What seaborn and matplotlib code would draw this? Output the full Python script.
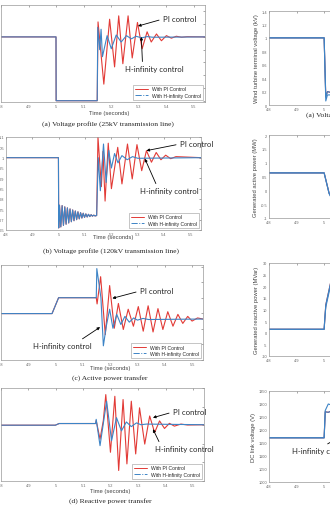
import pandas as pd
import matplotlib
matplotlib.use("Agg")
import matplotlib.pyplot as plt
import seaborn as sns
from matplotlib.lines import Line2D

W, H = 330, 510
RED = "#e23a36"
BLUE = "#3d84c6"

# ---------------- data ----------------
x_ticks = [4.8, 4.9, 5.0, 5.1, 5.2, 5.3, 5.4, 5.5]
x_tick_labels = ["4.8", "4.9", "5", "5.1", "5.2", "5.3", "5.4", "5.5"]

# (a) voltage, 25kV line
a_pre_t = [4.800, 4.9995, 5.0000, 5.1490]
a_pre_v = [1.000, 1.000, 0.000, 0.000]
a_pi_t = [5.152, 5.173, 5.194, 5.212, 5.227, 5.242, 5.261, 5.276, 5.295, 5.312,
          5.330, 5.345, 5.364, 5.382, 5.400, 5.418, 5.436, 5.455, 5.475, 5.540]
a_pi_v = [1.235, 0.260, 1.277, 0.530, 1.330, 0.580, 1.330, 0.670, 1.226, 0.815,
          1.080, 0.920, 1.046, 0.940, 1.020, 0.980, 1.010, 0.995, 1.003, 1.000]
a_hi_t = [5.151, 5.158, 5.163, 5.168, 5.185, 5.200, 5.218, 5.236, 5.255, 5.273,
          5.290, 5.310, 5.330, 5.350, 5.540]
a_hi_v = [1.150, 0.800, 1.120, 0.690, 1.020, 0.815, 1.030, 0.920, 1.020, 0.970,
          1.010, 0.985, 1.005, 0.995, 1.000]

# (b) voltage, 120kV line
b_pre_t = [4.800, 4.999, 5.000, 5.003, 5.008, 5.013, 5.018, 5.023, 5.028, 5.033,
           5.038, 5.043, 5.048, 5.053, 5.058, 5.063, 5.068, 5.073, 5.078, 5.083,
           5.088, 5.093, 5.098, 5.103, 5.108, 5.113, 5.118, 5.123, 5.128, 5.133,
           5.138, 5.144]
b_pre_v = [1.000, 1.000, 0.660, 0.770, 0.665, 0.768, 0.672, 0.762, 0.678, 0.757,
           0.684, 0.752, 0.690, 0.747, 0.695, 0.742, 0.700, 0.738, 0.704, 0.734,
           0.708, 0.731, 0.711, 0.728, 0.713, 0.726, 0.715, 0.724, 0.717, 0.722,
           0.718, 0.720]
b_pi_t = [5.149, 5.162, 5.168, 5.176, 5.188, 5.200, 5.224, 5.240, 5.261, 5.279,
          5.297, 5.315, 5.333, 5.352, 5.370, 5.388, 5.406, 5.425, 5.445, 5.540]
b_pi_v = [1.100, 0.860, 1.030, 0.790, 1.070, 0.850, 1.050, 0.873, 1.066, 0.897,
          1.063, 0.937, 1.034, 0.978, 1.025, 0.990, 1.012, 0.995, 1.005, 1.000]
b_hi_t = [5.150, 5.158, 5.170, 5.180, 5.190, 5.200, 5.212, 5.225, 5.240, 5.260,
          5.280, 5.300, 5.540]
b_hi_v = [1.000, 0.840, 1.066, 0.880, 1.035, 0.950, 1.020, 0.975, 1.010, 0.990,
          1.005, 0.997, 1.000]

# (c) active power transfer
c_pre_t = [4.800, 4.987, 5.011, 5.149]
c_pre_v = [29.8, 29.8, 40.0, 40.0]
c_pi_t = [5.152, 5.165, 5.182, 5.198, 5.215, 5.230, 5.248, 5.266, 5.285, 5.303,
          5.321, 5.339, 5.357, 5.375, 5.393, 5.411, 5.430, 5.448, 5.466, 5.484,
          5.500, 5.520, 5.540]
c_pi_v = [36.0, 53.5, 16.3, 47.8, 20.4, 36.3, 19.6, 32.6, 21.7, 34.3,
          18.5, 34.8, 18.0, 33.0, 19.6, 31.0, 21.7, 29.3, 23.5, 28.0,
          25.0, 27.0, 26.3]
c_hi_t = [5.151, 5.166, 5.175, 5.186, 5.198, 5.210, 5.224, 5.239, 5.254, 5.270,
          5.286, 5.300, 5.320, 5.340, 5.540]
c_hi_v = [58.7, 40.0, 9.1, 22.0, 32.6, 20.4, 29.3, 22.8, 28.0, 24.3,
          27.0, 25.6, 26.7, 26.0, 26.3]

# (d) reactive power transfer
d_pre_t = [4.800, 4.998, 5.012, 5.145]
d_pre_v = [0.0, 0.0, 1.8, 1.8]
d_pi_t = [5.147, 5.161, 5.173, 5.182, 5.199, 5.215, 5.229, 5.245, 5.259, 5.275,
          5.291, 5.305, 5.324, 5.342, 5.360, 5.378, 5.396, 5.414, 5.432, 5.456,
          5.480, 5.540]
d_pi_v = [5.0, -15.0, 5.0, 32.9, -29.1, 31.1, -48.7, 27.6, -41.6, 25.8,
          -30.9, 18.7, -20.3, 9.9, -7.9, 4.6, -3.5, 2.0, -1.0, 1.2,
          0.2, 0.5]
d_hi_t = [5.147, 5.161, 5.185, 5.203, 5.221, 5.239, 5.257, 5.275, 5.294, 5.310,
          5.330, 5.540]
d_hi_v = [6.3, -22.0, 25.8, -16.7, 8.1, -6.1, 3.5, -1.5, 2.5, 0.5,
          1.2, 0.5]

# right column (only the start is visible)
ra_t = [4.800, 5.000, 5.006, 5.012, 5.030]
ra_pi = [1.00, 1.00, 0.12, 0.20, 0.18]
ra_hi = [1.00, 1.00, 0.06, 0.15, 0.15]
rb_t = [4.800, 5.000, 5.018, 5.040]
rb_pi = [0.63, 0.63, -0.10, -0.50]
rb_hi = [0.63, 0.63, -0.12, -0.55]
rc_t = [4.800, 5.000, 5.002, 5.006, 5.030]
rc_pi = [1.5, 1.5, 5.0, 12.0, 25.0]
rc_hi = [1.5, 1.5, 5.5, 11.0, 24.0]
rd_t = [4.800, 5.000, 5.004, 5.015, 5.030]
rd_pi = [1170, 1170, 1270, 1268, 1275]
rd_hi = [1170, 1170, 1275, 1300, 1295]

# ---------------- drawing ----------------
sns.set_theme(style="white")
plt.rcParams["font.family"] = ["Liberation Sans", "DejaVu Sans"]

fig = plt.figure(figsize=(W / 100, H / 100), dpi=100)


def px_axes(left, top, right, bottom):
    return fig.add_axes([left / W, 1 - bottom / H, (right - left) / W, (bottom - top) / H])


def style(ax, ylim, yticks):
    ax.set_xlim(4.8, 5.54)
    ax.set_ylim(*ylim)
    ax.set_xticks(x_ticks)
    ax.set_xticklabels(x_tick_labels)
    ax.set_yticks(yticks)
    ax.set_yticklabels([("%g" % v) for v in yticks])
    ax.tick_params(direction="in", length=1.5, width=0.4, labelsize=2.8, colors="#666",
                   pad=1.2, top=True, right=True)
    for s in ax.spines.values():
        s.set_linewidth(0.5)
        s.set_color("#999")
    ax.set_xlabel("")
    ax.set_ylabel("")


def draw(ax, pre_t, pre_v, pi_t, pi_v, hi_t, hi_v, legend=True):
    pi = pd.DataFrame({"t": pre_t + pi_t, "v": pre_v + pi_v})
    hi = pd.DataFrame({"t": pre_t + hi_t, "v": pre_v + hi_v})
    sns.lineplot(data=pi, x="t", y="v", color=RED, lw=0.8, estimator=None, sort=False, ax=ax)
    sns.lineplot(data=hi, x="t", y="v", color=BLUE, lw=0.8, estimator=None, sort=False, ax=ax)
    if legend:
        handles = [Line2D([], [], color=RED, lw=0.7, label="With PI Control"),
                   Line2D([], [], color=BLUE, lw=0.7, ls="-.", label="With H-infinity Control")]
        ax.legend(handles=handles, loc="lower right", fontsize=3.6, frameon=True, fancybox=False,
                  edgecolor="#999", framealpha=1, handlelength=2.6, borderpad=0.4,
                  labelspacing=0.3, borderaxespad=0.4).get_frame().set_linewidth(0.4)


def note(ax, text, xy, txt_px, relpos):
    ax.annotate(text, xy=xy, xycoords="data", xytext=(txt_px[0], H - txt_px[1]),
                textcoords="figure pixels", fontsize=5.6, family=["Lato", "DejaVu Sans"],
                ha="left", va="center", annotation_clip=False,
                arrowprops=dict(arrowstyle="-|>", color="black", lw=0.6, mutation_scale=4,
                                relpos=relpos, shrinkA=0.5, shrinkB=0))


def caption(x, y, text):
    fig.text(x / W, 1 - y / H, text, ha="center", va="center", fontsize=5.4,
             family=["Liberation Serif", "DejaVu Serif"], color="#222")


def time_label(x, y):
    fig.text(x / W, 1 - y / H, "Time (seconds)", ha="center", va="center", fontsize=4.2,
             color="#444")


# left column
ax_a = px_axes(1, 6, 205, 103)
draw(ax_a, a_pre_t, a_pre_v, a_pi_t, a_pi_v, a_hi_t, a_hi_v)
style(ax_a, (-0.02, 1.5), [0, 0.2, 0.4, 0.6, 0.8, 1.0, 1.2, 1.4])
note(ax_a, "PI control", (5.297, 1.17), (163, 20), (0, 0.5))
note(ax_a, "H-infinity control", (5.309, 1.0), (125, 70), (0.3, 1))
time_label(109, 113)
caption(108, 124, "(a) Voltage profile (25kV transmission line)")

ax_b = px_axes(6, 138, 201, 231)
draw(ax_b, b_pre_t, b_pre_v, b_pi_t, b_pi_v, b_hi_t, b_hi_v)
style(ax_b, (0.65, 1.1), [0.65, 0.7, 0.75, 0.8, 0.85, 0.9, 0.95, 1.0, 1.05, 1.1])
note(ax_b, "PI control", (5.333, 1.034), (180, 145), (0, 0.5))
note(ax_b, "H-infinity control", (5.327, 0.995), (140, 192), (0.3, 1))
time_label(113, 238)
caption(111, 251, "(b) Voltage profile (120kV transmission line)")

ax_c = px_axes(1, 266, 203, 361)
draw(ax_c, c_pre_t, c_pre_v, c_pi_t, c_pi_v, c_hi_t, c_hi_v)
style(ax_c, (0, 61), [0, 10, 20, 30, 40, 50, 60])
note(ax_c, "PI control", (5.208, 39.6), (140, 292), (0, 0.5))
note(ax_c, "H-infinity control", (5.163, 21.1), (33, 347), (0.75, 1))
time_label(110, 369)
caption(110, 378, "(c) Active power transfer")

ax_d = px_axes(1, 389, 204, 482)
draw(ax_d, d_pre_t, d_pre_v, d_pi_t, d_pi_v, d_hi_t, d_hi_v)
style(ax_d, (-60, 40), [-60, -40, -20, 0, 20, 40])
note(ax_d, "PI control", (5.354, 8.1), (173, 413), (0, 0.5))
note(ax_d, "H-infinity control", (5.354, -4.3), (155, 450), (0.1, 1))
time_label(110, 492)
caption(110, 501, "(d) Reactive power transfer")

# right column (runs off the page)
right_axes = [
    ((269, 12, 473, 106), ra_t, ra_pi, ra_hi, (0, 1.4), [0, 0.2, 0.4, 0.6, 0.8, 1.0, 1.2, 1.4],
     "Wind turbine terminal voltage (kV)", "(a) Voltage profile at wind turbine terminal", 115),
    ((269, 136, 473, 219), rb_t, rb_pi, rb_hi, (-1, 2), [-1, -0.5, 0, 0.5, 1, 1.5, 2],
     "Generated active power (MW)", "(b) Generated active power", 240),
    ((269, 264, 473, 357), rc_t, rc_pi, rc_hi, (-10, 30), [-10, -5, 0, 5, 10, 15, 20, 25, 30],
     "Generated reactive power (MVar)", "(c) Reactive power", 376),
    ((269, 392, 473, 483), rd_t, rd_pi, rd_hi, (1000, 1350), [1000, 1050, 1100, 1150, 1200, 1250, 1300, 1350],
     "DC link voltage (V)", "(d) DC link voltage", 501),
]
for box, t, pi_v, hi_v, ylim, yt, ylab, cap, cap_y in right_axes:
    ax = px_axes(*box)
    draw(ax, t, pi_v, [], [], [], [], legend=False)
    sns.lineplot(x=t, y=hi_v, color=BLUE, lw=0.8, estimator=None, sort=False, ax=ax)
    style(ax, ylim, yt)
    ax.set_ylabel(ylab, fontsize=4.2, color="#444", labelpad=2)
    caption((box[0] + box[2]) / 2, cap_y, cap)
    if box[1] == 392:
        note(ax, "H-infinity control", (5.076, 1185), (292, 452), (0.5, 1))

fig.savefig("out.png", dpi=100)
